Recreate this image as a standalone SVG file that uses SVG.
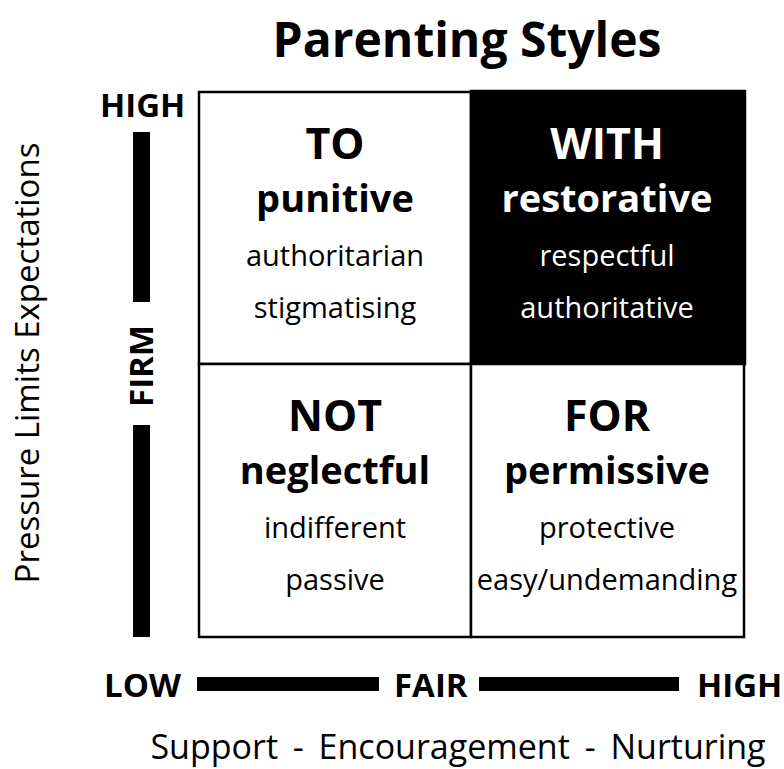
<svg xmlns="http://www.w3.org/2000/svg" width="784" height="769" viewBox="0 0 784 769">
<style>
text{font-family:"Open Sans","Noto Sans","Liberation Sans",sans-serif;fill:#000}
.b{font-weight:700}
.h1{font-size:43px;font-weight:700;text-anchor:middle}
.h2{font-size:38px;font-weight:700;text-anchor:middle}
.r{font-size:29px;text-anchor:middle}
.ax{font-size:33px;font-weight:700}
.w{fill:#fff}
.cell{fill:#fff;stroke:#000;stroke-width:2.5}
.bar{fill:#000}
</style>
<rect width="784" height="769" fill="#fff"/>
<text id="title" x="467" y="57" class="b" style="font-size:48px" text-anchor="middle">Parenting Styles</text>

<g id="cell-to">
<rect class="cell" x="199" y="92" width="272" height="272"/>
<text class="h1" x="335" y="159">TO</text>
<text class="h2" x="335" y="212">punitive</text>
<text class="r" x="335" y="266">authoritarian</text>
<text class="r" x="335" y="318">stigmatising</text>
</g>
<g id="cell-with">
<rect x="471" y="91" width="274" height="273" fill="#000" stroke="#000" stroke-width="2.5"/>
<text class="h1 w" x="607" y="159">WITH</text>
<text class="h2 w" x="607" y="212">restorative</text>
<text class="r w" x="607" y="266">respectful</text>
<text class="r w" x="607" y="318">authoritative</text>
</g>
<g id="cell-not">
<rect class="cell" x="199" y="364" width="272" height="273"/>
<text class="h1" x="335" y="431">NOT</text>
<text class="h2" x="335" y="484">neglectful</text>
<text class="r" x="335" y="538">indifferent</text>
<text class="r" x="335" y="590">passive</text>
</g>
<g id="cell-for">
<rect class="cell" x="471" y="364" width="273" height="273"/>
<text class="h1" x="607" y="431">FOR</text>
<text class="h2" x="607" y="484">permissive</text>
<text class="r" x="607" y="538">protective</text>
<text class="r" x="607" y="590">easy/undemanding</text>
</g>

<g id="y-axis">
<text class="ax" x="100" y="117">HIGH</text>
<rect class="bar" x="133" y="132" width="17" height="170"/>
<rect class="bar" x="133" y="425" width="17" height="212"/>
<text class="ax" transform="translate(153,366) rotate(-90)" text-anchor="middle">FIRM</text>
<text transform="translate(39,363) rotate(-90)" text-anchor="middle" style="font-size:33px">Pressure Limits Expectations</text>
</g>

<g id="x-axis">
<text class="ax" x="104" y="697">LOW</text>
<rect class="bar" x="197" y="677" width="182" height="14"/>
<text class="ax" x="394" y="697">FAIR</text>
<rect class="bar" x="479" y="677" width="200" height="14"/>
<text class="ax" x="697" y="697">HIGH</text>
<text x="458" y="759" text-anchor="middle" style="font-size:34px;word-spacing:6px">Support - Encouragement - Nurturing</text>
</g>
</svg>
